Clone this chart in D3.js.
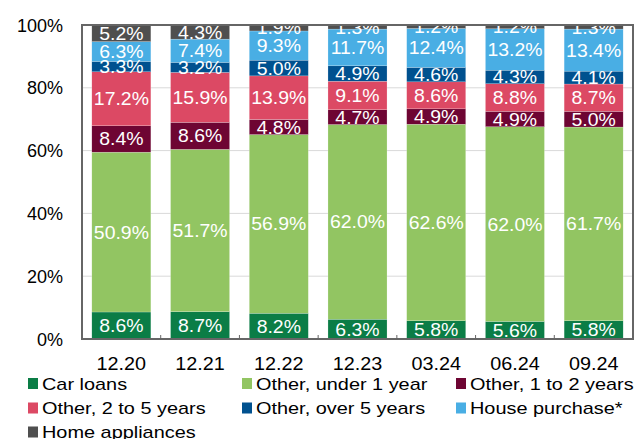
<!DOCTYPE html>
<html>
<head>
<meta charset="utf-8">
<script src="https://cdn.jsdelivr.net/npm/d3@7"></script>
<style>
  body { margin: 0; background: #fff; }
  text { font-family: "Liberation Sans", Arial, sans-serif; }
</style>
</head>
<body>
<div id="chart"></div>
<script>
// categories (quarters) and series, bottom to top
var periods = ["12.20", "12.21", "12.22", "12.23", "03.24", "06.24", "09.24"];
var seriesNames = ["Car loans", "Other, under 1 year", "Other, 1 to 2 years",
  "Other, 2 to 5 years", "Other, over 5 years", "House purchase*", "Home appliances"];
var seriesColors = ["#0b7d46", "#92c562", "#6e0533", "#dc4964", "#00518f", "#49aee4", "#4f4f4f"];

var carLoans    = [8.6, 8.7, 8.2, 6.3, 5.8, 5.6, 5.8];
var under1Year  = [50.9, 51.7, 56.9, 62.0, 62.6, 62.0, 61.7];
var oneTo2      = [8.4, 8.6, 4.8, 4.7, 4.9, 4.9, 5.0];
var twoTo5      = [17.2, 15.9, 13.9, 9.1, 8.6, 8.8, 8.7];
var over5       = [3.3, 3.2, 5.0, 4.9, 4.6, 4.3, 4.1];
var housePurch  = [6.3, 7.4, 9.3, 11.7, 12.4, 13.2, 13.4];
var appliances  = [5.2, 4.3, 1.9, 1.3, 1.2, 1.2, 1.3];
var yTicks = [0, 20, 40, 60, 80, 100];

var seriesValues = [carLoans, under1Year, oneTo2, twoTo5, over5, housePurch, appliances];

var svgWidth = 638, svgHeight = 439;
var margin = { top: 25, right: 5, bottom: 100, left: 82 };
var width = svgWidth - margin.left - margin.right;
var height = svgHeight - margin.top - margin.bottom;

var svg = d3.select("#chart").append("svg")
  .attr("width", svgWidth)
  .attr("height", svgHeight);

var chartGroup = svg.append("g")
  .attr("transform", `translate(${margin.left}, ${margin.top})`);

// build rows for d3.stack
var rows = periods.map(function (p, i) {
  var row = { period: p };
  seriesNames.forEach(function (s, j) { row[s] = seriesValues[j][i]; });
  return row;
});
var stacked = d3.stack().keys(seriesNames)(rows);

var x = d3.scaleBand().domain(periods).range([0, width])
  .paddingInner(0.25).paddingOuter(0.125);
var y = d3.scaleLinear().domain([0, 100]).range([height, 0]);

// gridlines
chartGroup.selectAll(".grid")
  .data(yTicks.filter(d => d > 0 && d < 100))
  .enter().append("line")
  .attr("x1", 0).attr("x2", width)
  .attr("y1", d => y(d)).attr("y2", d => y(d))
  .attr("stroke", "#d9d9d9").attr("stroke-width", 1);

svg.append("clipPath").attr("id", "plotClip")
  .append("rect").attr("x", 0).attr("y", 0).attr("width", width).attr("height", height);

var plot = chartGroup.append("g").attr("clip-path", "url(#plotClip)");

var layers = plot.selectAll(".layer")
  .data(stacked)
  .enter().append("g")
  .attr("fill", (d, i) => seriesColors[i]);

layers.selectAll("rect")
  .data(d => d)
  .enter().append("rect")
  .attr("x", d => x(d.data.period))
  .attr("width", x.bandwidth())
  .attr("y", d => y(Math.min(d[1], 100)))
  .attr("height", d => y(d[0]) - y(Math.min(d[1], 100)))
  .attr("stroke", "#ffffff").attr("stroke-width", 0.4).attr("stroke-opacity", 0.5);

// value labels
stacked.forEach(function (layer, j) {
  plot.selectAll(null)
    .data(layer)
    .enter().append("text")
    .attr("transform", d => `translate(${x(d.data.period) + x.bandwidth() / 2}, ${y((d[0] + d[1]) / 2) + 6.5}) scale(1.08, 1)`)
    .style("font-size", "18px")
    .style("text-anchor", "middle")
    .style("fill", "#ffffff")
    .text(d => d3.format(".1f")(d[1] - d[0]) + "%");
});

// frame
chartGroup.append("rect")
  .attr("x", 0).attr("y", 0).attr("width", width).attr("height", height)
  .attr("fill", "none").attr("stroke", "#666666").attr("stroke-width", 2);

// small ticks between categories
chartGroup.selectAll(".xtick")
  .data(periods.slice(1))
  .enter().append("line")
  .attr("x1", d => x(d) - x.step() * x.paddingInner() / 2)
  .attr("x2", d => x(d) - x.step() * x.paddingInner() / 2)
  .attr("y1", height).attr("y2", height - 4)
  .attr("stroke", "#666666").attr("stroke-width", 1);

// y tick labels
chartGroup.selectAll(".ylab")
  .data(yTicks)
  .enter().append("text")
  .attr("x", -19)
  .attr("y", d => y(d) + 6.5)
  .style("font-size", "18px")
  .style("text-anchor", "end")
  .style("fill", "#000")
  .text(d => d + "%");

// x labels
chartGroup.selectAll(".xlab")
  .data(periods)
  .enter().append("text")
  .attr("transform", d => `translate(${x(d) + x.bandwidth() / 2}, ${height + 31}) scale(1.1, 1)`)
  .style("font-size", "18px")
  .style("text-anchor", "middle")
  .style("fill", "#000")
  .text(d => d);

// legend
var legendCols = [28, 242, 456];
var legendRows = [383.5, 408, 432];
var legend = svg.selectAll(".legend")
  .data(seriesNames)
  .enter().append("g")
  .attr("transform", (d, i) => `translate(${legendCols[i % 3]}, ${legendRows[Math.floor(i / 3)]})`);

legend.append("rect")
  .attr("x", 0).attr("y", -5.5)
  .attr("width", 10).attr("height", 11)
  .attr("fill", (d, i) => seriesColors[i]);

legend.append("text")
  .attr("transform", "translate(14, 6) scale(1.17, 1)")
  .style("font-size", "17px")
  .style("fill", "#000")
  .text(d => d);
</script>
</body>
</html>
